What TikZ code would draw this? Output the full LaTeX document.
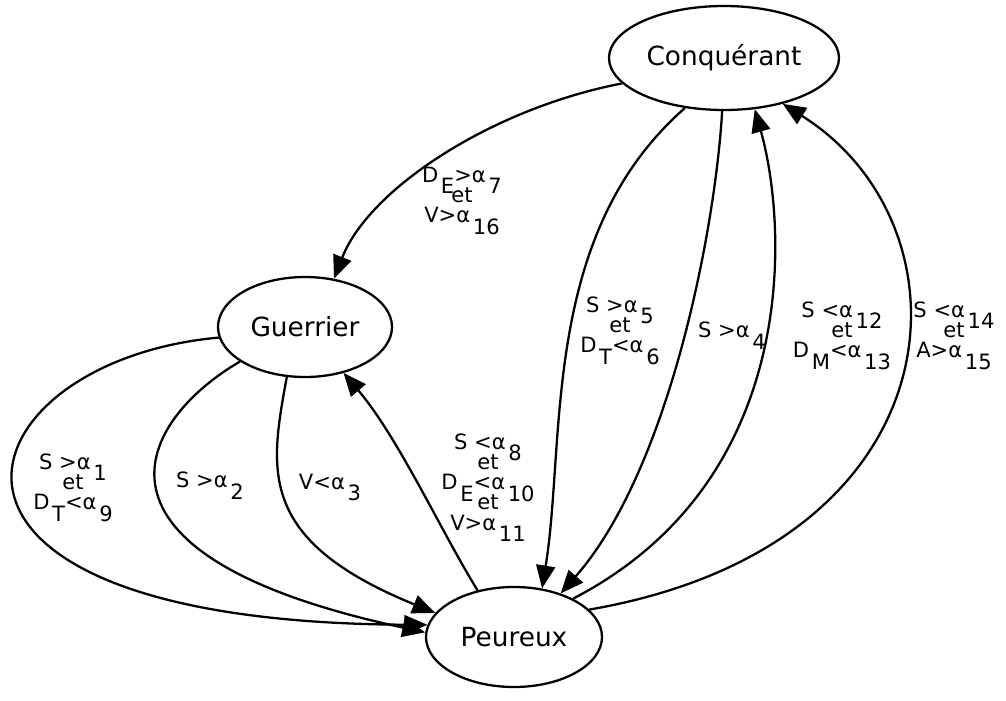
\documentclass[tikz,border=0pt]{standalone}
\usepackage{fontspec}
\setmainfont{DejaVu Sans}
\usetikzlibrary{arrows.meta, shapes.geometric}
\newcommand{\dsub}[1]{\hspace{1.5pt}\smash{\raisebox{-6.5pt}{#1}}}

\begin{document}
\begin{tikzpicture}[
    state/.style={draw, ellipse, line width=1.3pt, inner sep=0pt, font=\fontsize{15}{18}\selectfont},
    lbl/.style={align=center, inner sep=0pt, font=\fontsize{12}{11.5}\selectfont},
    arr/.style={-{Triangle[length=4.6mm, width=3.8mm]}, line width=1.3pt}
  ]
  \useasboundingbox (0,0) rectangle (20.12,-14);
  \node[state, minimum width=4.6cm, minimum height=2.08cm] (conq) at (14.48,-1.16) {Conquérant};
  \node[state, minimum width=3.48cm, minimum height=2cm] (guer) at (6.10,-6.54) {Guerrier};
  \node[state, minimum width=3.52cm, minimum height=2cm] (peur) at (10.28,-12.74) {Peureux};

  \node[lbl] (l7)  at (9.24,-3.9)  {D\dsub{E}>α\dsub{7}\\et\\V>α\dsub{16}};
  \node[lbl] (l5)  at (12.4,-6.5)  {S >α\dsub{5}\\et\\D\dsub{T}<α\dsub{6}};
  \node[lbl] (l4)  at (14.64,-6.6) {S >α\dsub{4}};
  \node[lbl] (l12) at (16.84,-6.6) {S <α\dsub{12}\\et\\D\dsub{M}<α\dsub{13}};
  \node[lbl] (l14) at (19.08,-6.6) {S <α\dsub{14}\\et\\A>α\dsub{15}};
  \node[lbl] (l1)  at (1.46,-9.64) {S >α\dsub{1}\\et\\D\dsub{T}<α\dsub{9}};
  \node[lbl] (l2)  at (4.2,-9.6)   {S >α\dsub{2}};
  \node[lbl] (l3)  at (6.6,-9.64)  {V<α\dsub{3}};
  \node[lbl] (l8)  at (9.76,-9.64) {S <α\dsub{8}\\et\\D\dsub{E}<α\dsub{10}\\et\\V>α\dsub{11}};

  \draw[arr] (conq.194) .. controls +(-2.6,-0.5) and +(0.7,1.8) .. (guer.59);
  \draw[arr] (conq.232) .. controls +(-2.9,-2.54) and +(0.48,2.96) .. (peur.60);
  \draw[arr] (conq.268) .. controls +(-0.14,-2.4) and +(2.16,2.46) .. (peur.43);
  \draw[arr] (peur.33) .. controls +(4.56,2.36) and +(0.66,-2.36) .. (conq.301);
  \draw[arr] (peur.20) .. controls +(7.5,1.3) and +(3.9,-2.44) .. (conq.322);
  \draw[arr] (guer.187) .. controls +(-5.16,-0.46) and +(-11.26,0.06) .. (peur.172);
  \draw[arr] (guer.208) .. controls +(-2.0,-1.16) and +(-7.28,1.56) .. (peur.177);
  \draw[arr] (guer.250) .. controls +(-0.34,-1.86) and +(-3.58,1.46) .. (peur.163);
  \draw[arr] (peur.128) .. controls +(-0.74,1.2) and +(1.1,-1.3) .. (guer.310);
\end{tikzpicture}
\end{document}
